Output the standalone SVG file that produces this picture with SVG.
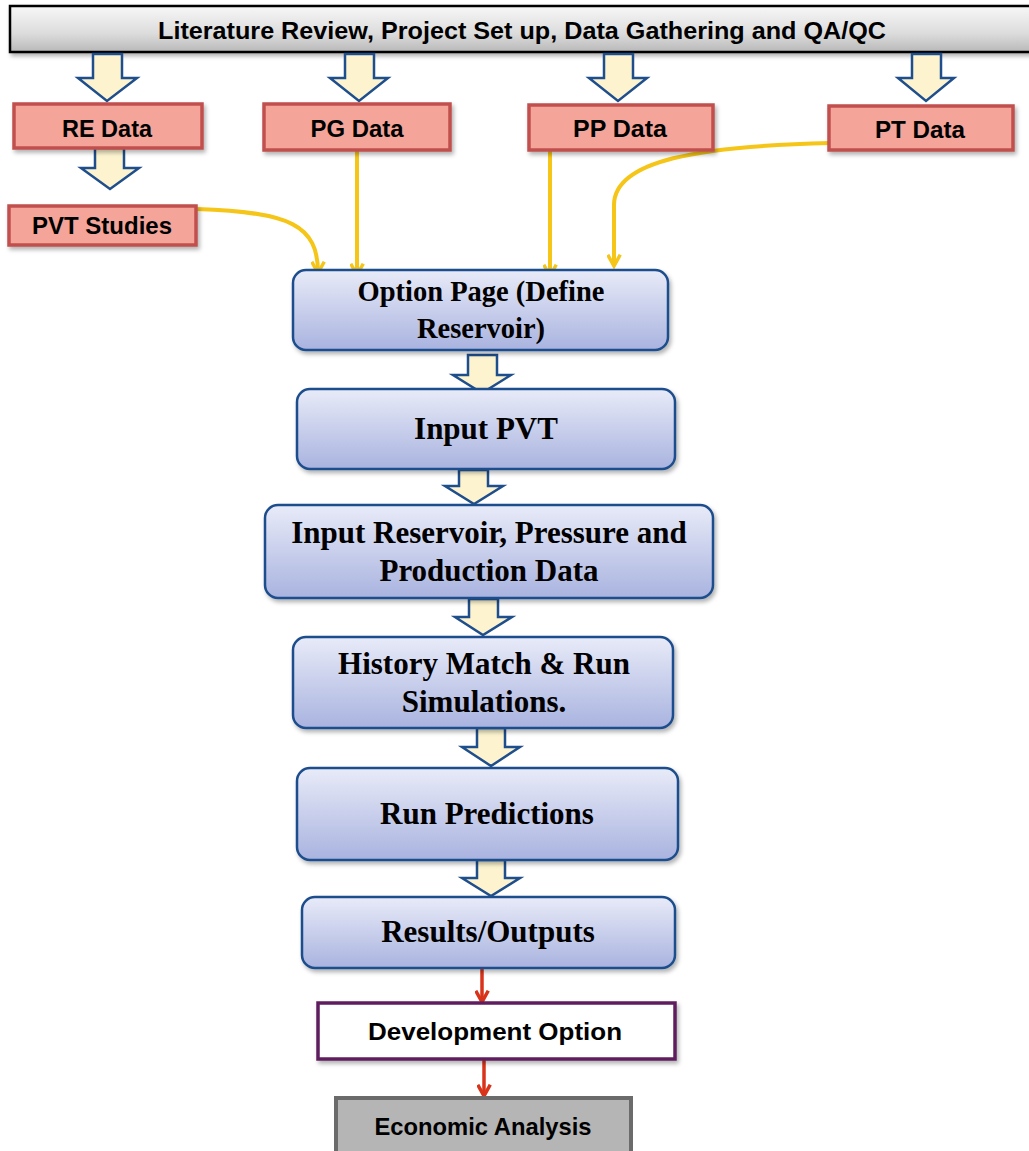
<svg xmlns="http://www.w3.org/2000/svg" width="1029" height="1151" viewBox="0 0 1029 1151">
<defs>
<linearGradient id="gBlue" x1="0" y1="0" x2="0" y2="1"><stop offset="0" stop-color="#e8ebf8"/><stop offset="1" stop-color="#a9b3df"/></linearGradient>
<linearGradient id="gGrey" x1="0" y1="0" x2="0" y2="1"><stop offset="0" stop-color="#f7f7f7"/><stop offset="0.6" stop-color="#dcdcdc"/><stop offset="1" stop-color="#b8b8b8"/></linearGradient>
<filter id="sh" x="-10%" y="-20%" width="120%" height="150%"><feDropShadow dx="2" dy="3" stdDeviation="2" flood-color="#000" flood-opacity="0.3"/></filter>
<marker id="mY" viewBox="0 0 12 12" refX="10" refY="6" markerWidth="15" markerHeight="15" markerUnits="userSpaceOnUse" orient="auto"><path d="M1,1 L10,6 L1,11" fill="none" stroke="#f5c518" stroke-width="2.8"/></marker>
<marker id="mR" viewBox="0 0 12 12" refX="10" refY="6" markerWidth="15" markerHeight="15" markerUnits="userSpaceOnUse" orient="auto"><path d="M1,1 L10,6 L1,11" fill="none" stroke="#d9331a" stroke-width="2.8"/></marker>
</defs>
<style>
.blk{fill:#fdf4cf;stroke:#1f4e8c;stroke-width:2.5;stroke-linejoin:miter}
.sal{fill:#f4a498;stroke:#c0504d;stroke-width:3.5}
.blu{fill:url(#gBlue);stroke:#1f4e8c;stroke-width:2.5}
.sans{font-family:"Liberation Sans",Arial,sans-serif;font-weight:bold;fill:#000;text-anchor:middle;font-size:24px}
.ser{font-family:"Liberation Serif","Times New Roman",serif;font-weight:bold;fill:#000;text-anchor:middle;font-size:31px}
.ser.sm{font-size:28.5px}
.yl{fill:none;stroke:#f5c518;stroke-width:4;marker-end:url(#mY)}
.rl{fill:none;stroke:#d9331a;stroke-width:3.5;marker-end:url(#mR)}
</style>

<g id="top">
<rect x="10" y="6" width="1030" height="46" fill="url(#gGrey)" stroke="#000" stroke-width="2.5" filter="url(#sh)"/>
<text class="sans" x="522" y="39" textLength="728" lengthAdjust="spacingAndGlyphs">Literature Review,  Project Set up, Data Gathering and QA/QC</text>
</g>

<g id="connectors">
<path class="blk" d="M93,54 H122 V78 H137 L107,101 L78,78 H93 Z"/>
<path class="blk" d="M345,54 H374 V78 H388 L359,101 L330,78 H345 Z"/>
<path class="blk" d="M604,54 H633 V78 H647 L618,101 L589,78 H604 Z"/>
<path class="blk" d="M912,54 H941 V78 H954 L926,101 L898,78 H912 Z"/>
<path class="blk" d="M95,148 H124 V168 H139 L110,189 L81,168 H95 Z"/>
<path class="blk" d="M468,355 H497 V375 H511 L482,393 L453,375 H468 Z"/>
<path class="blk" d="M459,470 H488 V486 H503 L474,504 L445,486 H459 Z"/>
<path class="blk" d="M469,599 H498 V617 H512 L483,635 L455,617 H469 Z"/>
<path class="blk" d="M477,728 H505 V747 H520 L491,766 L462,747 H477 Z"/>
<path class="blk" d="M477,860 H505 V878 H520 L491,896 L462,878 H477 Z"/>
<path class="yl" d="M197,209 C290,212 318,225 318,273"/>
<path class="yl" d="M357,151 V275"/>
<path class="yl" d="M550,151 V276"/>
<path class="yl" d="M830,143 C700,146 614,160 614,205 V266"/>
<path class="rl" d="M482,968 V1002"/>
<path class="rl" d="M484,1060 V1096"/>
</g>

<g id="re"><rect class="sal" x="14" y="104" width="188" height="44" filter="url(#sh)"/><text class="sans" x="107" y="137" textLength="90" lengthAdjust="spacingAndGlyphs">RE Data</text></g>
<g id="pg"><rect class="sal" x="264" y="104" width="186" height="46" filter="url(#sh)"/><text class="sans" x="357" y="137" textLength="93" lengthAdjust="spacingAndGlyphs">PG Data</text></g>
<g id="pp"><rect class="sal" x="529" y="105" width="184" height="45" filter="url(#sh)"/><text class="sans" x="620" y="137" textLength="94" lengthAdjust="spacingAndGlyphs">PP Data</text></g>
<g id="pt"><rect class="sal" x="829" y="106" width="184" height="44" filter="url(#sh)"/><text class="sans" x="920" y="138" textLength="90" lengthAdjust="spacingAndGlyphs">PT Data</text></g>
<g id="pvt"><rect class="sal" x="9" y="206" width="187" height="39" filter="url(#sh)"/><text class="sans" x="102" y="234" textLength="140" lengthAdjust="spacingAndGlyphs">PVT Studies</text></g>

<g id="option"><rect class="blu" x="293" y="270" width="375" height="80" rx="13" filter="url(#sh)"/><text class="ser sm" x="481" y="301">Option Page (Define</text><text class="ser sm" x="481" y="338">Reservoir)</text></g>
<g id="inputpvt"><rect class="blu" x="297" y="389" width="378" height="80" rx="13" filter="url(#sh)"/><text class="ser" x="486" y="439">Input PVT</text></g>
<g id="inputres"><rect class="blu" x="265" y="505" width="448" height="93" rx="13" filter="url(#sh)"/><text class="ser" x="489" y="543">Input Reservoir, Pressure and</text><text class="ser" x="489" y="581">Production Data</text></g>
<g id="history"><rect class="blu" x="293" y="637" width="380" height="91" rx="13" filter="url(#sh)"/><text class="ser" x="484" y="674">History Match &amp; Run</text><text class="ser" x="484" y="712">Simulations.</text></g>
<g id="predict"><rect class="blu" x="297" y="768" width="381" height="92" rx="13" filter="url(#sh)"/><text class="ser" x="487" y="824">Run Predictions</text></g>
<g id="results"><rect class="blu" x="302" y="897" width="373" height="71" rx="13" filter="url(#sh)"/><text class="ser" x="488" y="942">Results/Outputs</text></g>

<g id="devopt"><rect x="318" y="1003" width="357" height="56" fill="#fff" stroke="#5e1f5e" stroke-width="3.5" filter="url(#sh)"/><text class="sans" x="495" y="1040" textLength="254" lengthAdjust="spacingAndGlyphs">Development Option</text></g>
<g id="econ"><rect x="336" y="1098" width="295" height="60" fill="#b5b5b5" stroke="#6b6b6b" stroke-width="4"/><text class="sans" x="483" y="1135" textLength="217" lengthAdjust="spacingAndGlyphs">Economic Analysis</text></g>
</svg>
